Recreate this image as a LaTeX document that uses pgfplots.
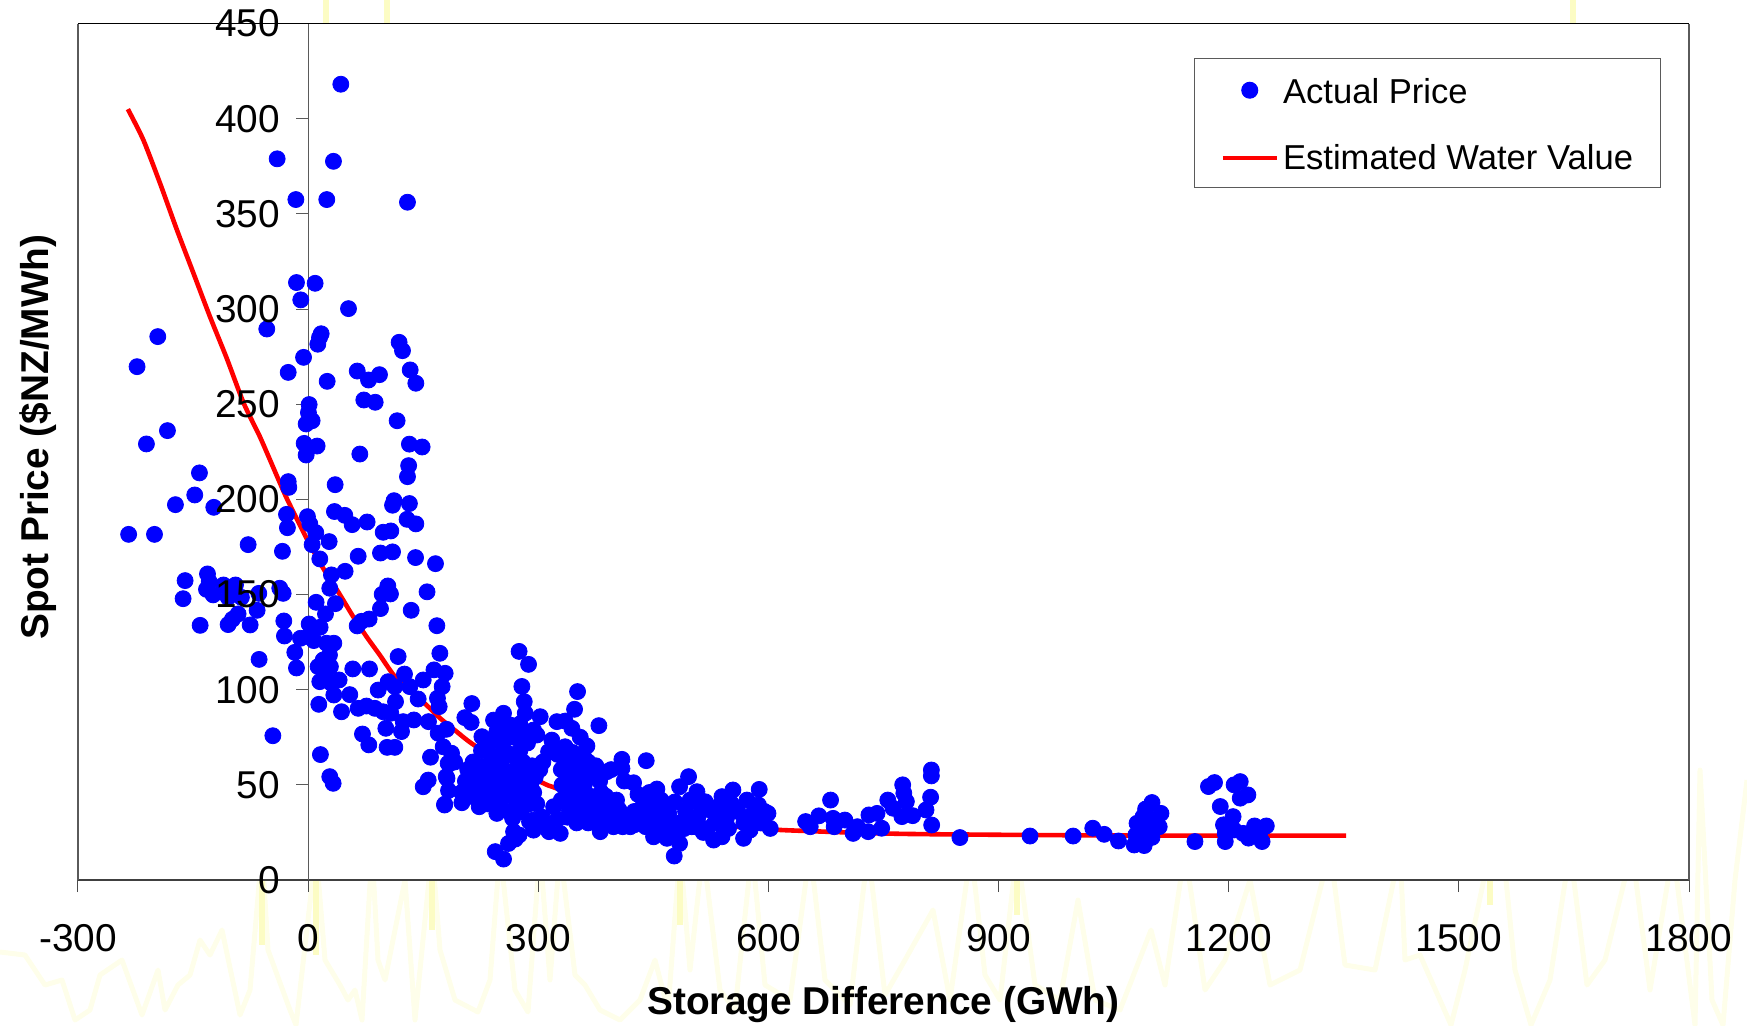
\documentclass[border=0pt]{standalone}
\usepackage{fontspec}
\setmainfont{Liberation Sans}
\usepackage{pgfplots}
\pgfplotsset{compat=1.18}
\definecolor{bgyellow}{RGB}{254,254,234}
\definecolor{bgstrong}{RGB}{252,252,196}
\definecolor{spine}{RGB}{90,90,90}
\newcommand{\ticksize}{\fontsize{19.4}{19.4}\selectfont}
\pgfplotsset{
  mainbox/.style={
    at={(39pt,72.5pt)}, anchor=south west,
    scale only axis, width=805.5pt, height=428.25pt,
    xmin=-300, xmax=1800, ymin=0, ymax=450,
    axis lines=center,
    axis line style={-},
    tick align=outside,
    major tick length=6pt,
    hide obscured x ticks=false,
    hide obscured y ticks=false,
  }
}
\begin{document}
\begin{tikzpicture}
\useasboundingbox (0pt,0pt) rectangle (873.5pt,512.5pt);

% faint yellow line behind the slide, in image pixels
\begin{axis}[
  at={(0pt,0pt)}, anchor=south west,
  scale only axis, width=873.5pt, height=512.5pt,
  xmin=0, xmax=1747, ymin=0, ymax=1025, y dir=reverse,
  hide axis, clip=true, unbounded coords=jump
]
\addplot[bgyellow, line width=2.5pt, line join=round] coordinates {
(0,952) (25,955) (45,985) (62,980) (75,1020) (90,1010) (100,975) (122,960) (142,1015)
(158,970) (165,1010) (178,985) (190,975) (200,940) (210,955) (222,930) (240,1015)
(250,990) (262,850) (268,950) (290,1010) (296,1025) (316,850) (325,960) (340,985)
(348,1000) (355,990) (362,1020) (372,850) (378,960) (385,980) (395,930) (405,880)
(415,1020) (432,850) (440,950) (455,1000) (478,1012) (490,980) (500,850) (515,990)
(528,1012) (540,850) (550,980) (560,850) (575,975) (585,985) (600,1010) (620,1020)
(640,1000) (655,960) (668,1010) (680,850) (690,970) (703,850) (720,990) (735,1010)
(752,850) (765,985) (790,1000) (810,850) (825,980) (850,1005) (868,850) (885,995)
(905,960) (933,910) (950,1000) (971,850) (985,975) (1000,1000) (1017,850) (1035,985)
(1060,1000) (1078,900) (1095,1000) (1120,1010) (1151,930) (1165,985) (1185,850) (1205,990)
(1225,960) (1250,880) (1270,985) (1300,970) (1330,850) (1345,965) (1375,970) (1400,850)
(1405,960) (1420,955) (1451,1025) (1465,970) (1490,850) (1503,850) (1515,970) (1531,1025)
(1550,980) (1570,850) (1587,985) (1605,960) (1632,850) (1650,990) (1673,850) (1695,1025)
(1700,770) (1712,1000) (1723,1025) (1735,880) (1747,780)
};
% the stronger stripes
\addplot[bgstrong, line width=3pt] coordinates {
(262,880) (262,945) (nan,nan) (316,880) (316,955) (nan,nan) (432,880) (432,930)
(nan,nan) (680,880) (680,925) (nan,nan) (1017,880) (1017,915) (nan,nan) (1490,880) (1490,905)
(nan,nan) (326,0) (326,23) (nan,nan) (387,0) (387,23) (nan,nan) (1573,0) (1573,23)
};
\end{axis}

\begin{axis}[
  mainbox,
  clip=false,
  axis background/.style={fill=white},
  x axis line style={color=black!75, line width=0.8pt},
  y axis line style={color=spine, line width=0.5pt},
  x tick style={color=black!70, line width=0.5pt},
  y tick style={color=spine, line width=0.5pt},
  xtick={-300,0,300,600,900,1200,1500,1800},
  xticklabels={-300,0,300,600,900,1200,1500,1800},
  ytick={0,50,100,150,200,250,300,350,400,450},
  yticklabels={},
  x tick label style={font=\ticksize, yshift=-12.5pt},
  every axis x label/.style={at={(axis description cs:0.5,-0.1452)}, anchor=center},
  every axis y label/.style={at={(axis description cs:-0.0247,0.517)}, rotate=90, anchor=center},
  xlabel={\ticksize\bfseries Storage Difference (GWh)},
  ylabel={\ticksize\bfseries Spot Price (\$NZ/MWh)},
  reverse legend,
  legend cell align=left,
  legend style={
    at={(axis description cs:0.6927,0.9597)}, anchor=north west,
    draw=spine, line width=0.5pt, fill=white,
    font=\fontsize{17.3}{17.3}\selectfont,
    inner xsep=11.5pt, inner ysep=5.7pt, row sep=14.8pt
  }
]
\draw[black, line width=0.6pt] (rel axis cs:0,1) -- (rel axis cs:1,1);
\draw[spine, line width=0.6pt] (rel axis cs:0,0) -- (rel axis cs:0,1);
\draw[spine, line width=0.6pt] (rel axis cs:1,0) -- (rel axis cs:1,1);

% Estimated water value
\addplot[red, line width=2.3pt, line join=round, smooth, tension=0.4,
  legend image code/.code={\path (0pt,0pt); \draw[red, line width=2.3pt] (1.5pt,0pt) -- (28.5pt,0pt);}] coordinates {
(-235,405) (-215,389) (-193,366) (-171,341.5) (-149.5,318.8) (-128,296) (-106,274)
(-84,250.5) (-63,233) (-45,216.3) (-28,200.6) (-2,179.5) (19.6,163.8) (39,151.5)
(58.7,138.4) (76,127.9) (93.4,118.2) (115,106) (154,92) (172,85) (193.4,78) (214,71.5)
(260,60) (309,50.4) (318,49) (370,41.5) (420,36.4) (480,32) (537,28.9) (585,27.1)
(620,26.2) (702,25) (781,24.2) (921,23.7) (1107,23.3) (1353,23.3)
};
\addlegendentry{Estimated Water Value}

% Actual price
\addplot[only marks, mark=*, mark size=4pt, color=blue,
  legend image code/.code={\path (0pt,0pt); \fill[blue] (15pt,0pt) circle (4pt);}] coordinates {
(42.6,418.1) (-40.4,378.9) (33,377.6) (-16,357.5) (24.3,357.5) (129.5,356.1) (-15.2,313.9)
(9.1,313.5) (-9.6,304.8) (52.6,300.2) (-53.9,289.5) (-196,285.5) (17,287) (14.8,285)
(12.6,281.5) (118.6,282.5) (123,278.1) (-6,274.6) (-223,269.7) (-26,266.7) (64,267.4)
(93,265.5) (78.7,262.7) (133,268) (140.4,261) (24.8,262) (72.6,252.2) (87.4,251) (1.3,249.8)
(0.4,245.6) (5.2,241.3) (-2.6,239.6) (116,241.3) (-183.4,236.1) (-210.8,229.1) (-5.2,229.4)
(11.7,228) (132,229) (148.6,227.5) (67.4,223.8) (-2.6,223.3) (131,217.7)
(-141.7,213.9) (129.5,211.9) (-26,209.3) (-25.2,206.3) (35.2,207.7) (-147.8,202.3)
(-173,197.2) (-123,195.8) (112,199.3) (110,196.9) (132,197.8) (-28.2,192.1) (34.3,193.6)
(47.8,191.6) (-0.9,190.9) (2.2,187.1) (57.4,186.7) (76.9,188.1) (129,189.5) (140.4,187.1)
(-27,185.1) (10,182.5) (97.8,182.7) (107.8,183.4) (-234,181.6) (-200.3,181.6) (27.4,177.8)
(5.2,176.2) (-78.2,176.2) (-33.5,172.7) (94.3,171.8) (110,172.4) (15.2,168.7) (65.2,170.1)
(140,169.4) (166,166.2) (48.2,162.2) (30.4,160.3) (-131.2,160.8) (-160.4,157.3) (-129,156.8)
(-110.4,155) (-94.7,155) (-64.3,150.6) (-132.5,152.7) (-123.9,149.8) (-104.3,148.5) (-87,148.5)
(-163,147.8) (-37,153.3) (-32.6,150.6) (28.2,153.3) (103.9,154.5) (96.5,150.1) (107.3,150.3)
(155,151.4) (10.4,145.9) (35.6,145.2) (-66.5,141.7) (22.6,139.8) (94.3,142.6) (134.3,141.7)
(-91.3,139.8) (-98.7,137) (-31.7,136.1) (1.3,134.5) (15.6,132.8) (79.5,137.1) (69.5,135.9)
(63.9,133.5) (-140.8,133.8) (-104.3,134.2) (-75.6,134) (167.8,133.6) (-30.9,128.2) (-10,127)
(0,127.9) (7.4,125.8) (23.9,124.4) (33.5,124.4) (-17.4,119.6) (27.8,118.2) (171.7,119.1)
(117.3,117.4) (-63.9,115.9) (19.6,115.6) (13,112.1) (29,112.1) (-15.2,111.4) (58.2,110.9)
(80,110.9) (21.7,108.6) (164,110.4) (178.6,108.6) (125.6,108.2) (150,105.1) (15.2,104.2)
(40.4,105.1) (30.4,103.3) (104.3,104.2) (132.5,101.6) (174.7,101.6) (91.3,99.8) (113,101.6)
(54.3,97.4) (33.5,97.2) (143.4,95.1) (168.6,95.5) (113.9,93.7) (13.9,92.3) (170.8,91.1)
(213.4,92.7) (65.2,90.2) (76,91.4) (87,90.2) (43.5,88.4) (97.8,88.4) (107.8,87.6) (137.8,84.1)
(204.3,85.3) (212.5,82.8) (123.9,83.2) (156.9,83.2) (101.3,79.7) (121.7,78) (180.4,79.2)
(169.5,77.1) (70.8,76.7) (-46,75.8) (79.1,71) (102.9,69.7) (113,69.7) (16,65.9) (176,70)
(159.5,64.5) (186.9,66.6) (156.5,52.5) (150,49) (28.2,54.3) (32.6,50.8) (180,54.3) (178,39.8)
(182.5,61.3) (184,61) (191,62) (181,53.4) (183,47) (177.8,39.4)
(275,120.1) (287.3,113.3) (278.6,101.7) (281.7,93.7) (283,87.6) (351.2,99) (347.3,89.7)
(379,81.1) (254.7,87.6) (241.7,84) (263.4,81.4) (226.5,75.3) (302.5,85.8) (324.3,83.2)
(335,83.5) (343.8,79.7) (293.8,78.8) (298.2,76.2) (317.7,73.5) (354.7,75) (363.4,70.4)
(313.4,67.4) (338.6,64.8) (359,64.8) (409,63.4) (440.7,62.7) (409,58.6) (389.4,56.9)
(376.4,57.8) (348,54.3) (424.2,51.1) (495.9,54.3) (454.6,47.8) (484.2,49) (506.8,46.4)
(588,47.6) (553.7,47.3) (539.4,43.8) (517.6,41.1) (599.4,35) (602.4,27.1) (587,39.4)
(572,42) (567.6,21.9) (576,26.2) (548,27.1) (539.4,22.7) (528.5,21) (484.2,19.2) (477.2,12.6)
(467.7,21.9) (450.3,22.7) (419.9,28) (380.8,25.4) (328.6,24.5) (314,25.4) (293.8,26.2)
(288.6,30.6) (266.5,32.4) (246,35) (223,38.5) (200.4,40.6) (291.7,42) (275,23.6) (261.2,19.2)
(243.9,14.9) (254.7,11) (267.8,25.4) (270,21.5)
(200,46) (205,52) (208,58) (212,44) (215,62) (218,50) (222,42) (224,56) (226,68) (230,47)
(232,60) (234,40) (236,72) (238,52) (240,65) (242,44) (244,57) (246,78) (248,38) (250,50)
(252,62) (254,70) (256,44) (258,82) (260,55) (262,36) (264,66) (266,48) (268,75) (270,58)
(272,42) (274,52) (276,68) (278,36) (280,62) (282,46) (284,56) (286,72) (288,40) (290,50)
(292,60) (294,46) (296,54) (298,40) (302,58) (306,62) (262,76) (250,77) (240,74) (230,54)
(218,56) (272,64) (282,78) (276,82)
(294,31.5) (311,28) (320,38.5) (341.6,33.3) (363,31.5) (398,31.5)
(330,58) (340,52) (345,47) (352,42) (360,50) (368,44) (375,38) (382,46) (390,36)
(402,42) (410,33) (412,52) (425,36) (432,30) (440,42) (448,32) (455,38) (462,28) (470,35)
(478,41) (485,30) (492,36) (500,28) (508,33) (515,25) (522,37) (530,30) (538,36) (545,32)
(552,40) (560,36) (568,30) (575,33) (582,37) (590,30) (595,36) (345,34) (355,36) (365,30)
(372,33) (385,30) (398,28) (405,37) (435,38) (445,46) (460,42) (470,30) (480,25)
(490,27) (455,27) (440,28) (425,29) (410,28) (360,33) (350,30) (338,33) (325,32) (305,33)
(325,66) (335,70) (345,67) (352,62) (358,58) (370,55) (380,52) (395,58)
(330,42) (338,42) (350,48) (365,40) (378,42) (388,44) (400,38) (430,35) (445,34) (460,32)
(475,30) (490,31) (505,28) (520,27) (340,38) (334,60) (350,57) (365,62) (375,60) (430,45)
(445,40) (465,38) (498,42) (510,40) (530,38) (331,50)
(648.5,30.7) (654.5,28) (665.7,33.7) (681,42) (684.3,32.4) (685.7,28) (699.7,31.5) (710.4,24.5)
(716,28) (730,25.4) (731,34.2) (741.6,35) (747.6,27.2) (755.6,42) (775,50) (776.5,45.6)
(779.8,41.2) (774,33.3) (788,33.8) (762.5,37.7) (805.4,36.8) (811.4,43.5) (812.4,57.8) (812.4,54.7)
(812.8,28.9) (849.6,22.3) (941,23.1) (997.2,23.1) (1022.8,27.2) (1037.7,24) (1056.3,20.5)
(1076.8,18.4) (1089.8,18.1) (1100,40.7) (1091.7,37.3) (1111.7,35) (1080.5,29.8) (1109.4,28)
(1100,31.6) (1088.4,33.3) (1090.8,26.3) (1100,22.4) (1079,23.7) (1156,20.2) (1173.6,49.1)
(1181.5,51.2) (1207,50) (1215,51.7) (1225,44.7) (1215,43) (1189,38.6) (1205.7,33.3) (1193.2,29)
(1207,26.3) (1195.5,20.2) (1195.5,24.5) (1218.8,24.5) (1225.8,22) (1233.7,28.4) (1249,28.4)
(1242,26.3) (1243.5,20.2)
};
\addlegendentry{\rule{0pt}{14.8pt}Actual Price}
\end{axis}

% y tick labels sit over the points
\begin{axis}[
  mainbox,
  axis line style={draw=none},
  tick style={draw=none},
  xtick=\empty,
  ytick={0,50,100,150,200,250,300,350,400,450},
  yticklabels={0,50,100,150,200,250,300,350,400,450},
  y tick label style={font=\ticksize, xshift=-4.5pt},
]
\end{axis}
\end{tikzpicture}
\end{document}
